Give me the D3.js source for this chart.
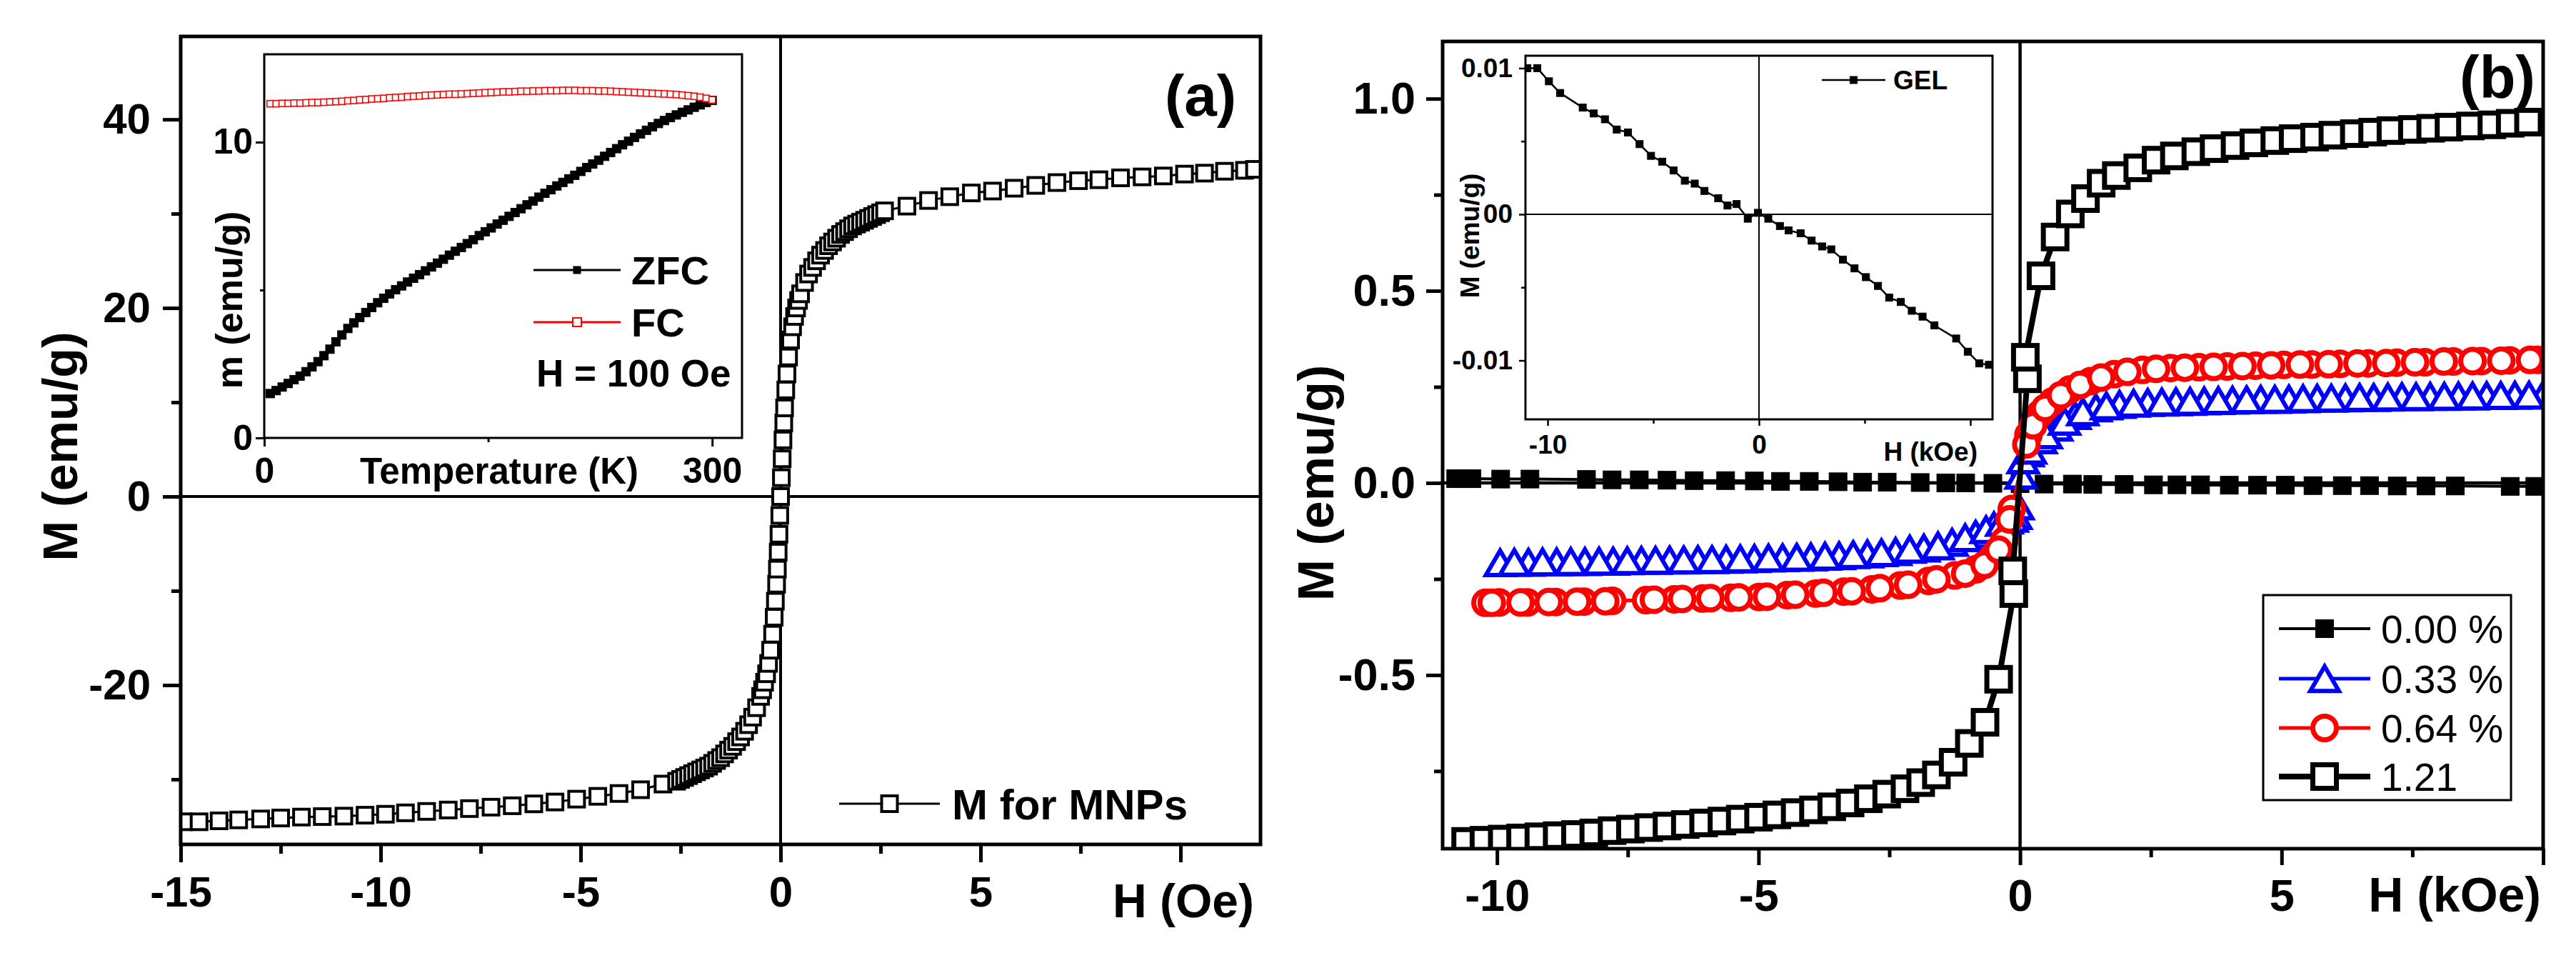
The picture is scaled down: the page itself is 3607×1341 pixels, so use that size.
<!DOCTYPE html>
<html>
<head>
<meta charset="utf-8">
<script src="https://cdn.jsdelivr.net/npm/d3@7"></script>
<style>
  body { margin: 0; background: #fff; }
  svg { display: block; }
</style>
</head>
<body>
<div id="chart"></div>
<script>
// ---------- data ----------

// (a) main: M (emu/g) vs H, pairs [H, M]
const mnpLoop = [
  [-14.93,-34.5],[-14.54,-34.5],[-14.04,-34.4],[-13.55,-34.3],[-13.0,-34.2],[-12.5,-34.1],[-11.98,-34.0],[-11.46,-33.95],
  [-10.92,-33.9],[-10.39,-33.8],[-9.88,-33.7],[-9.38,-33.55],[-8.85,-33.4],[-8.31,-33.25],[-7.78,-33.1],[-7.24,-32.95],
  [-6.71,-32.8],[-6.17,-32.6],[-5.64,-32.4],[-5.1,-32.1],[-4.57,-31.8],[-4.04,-31.5],[-3.5,-31.1],[-2.94,-30.5],
  [-2.6,-30.2],[-2.5,-30.0],[-2.4,-29.8],[-2.3,-29.6],[-2.2,-29.4],[-2.1,-29.2],[-2.0,-29.0],[-1.9,-28.8],[-1.8,-28.6],
  [-1.7,-28.3],[-1.6,-28.0],[-1.5,-27.7],[-1.4,-27.3],[-1.3,-26.9],[-1.2,-26.5],[-1.1,-26.0],[-1.0,-25.5],[-0.9,-24.9],
  [-0.8,-24.2],[-0.7,-23.4],[-0.6,-22.4],[-0.5,-21.2],[-0.45,-20.5],[-0.4,-19.7],[-0.35,-18.8],[-0.3,-17.7],[-0.25,-16.3],
  [-0.2,-14.6],[-0.16,-12.8],[-0.13,-11.1],[-0.1,-9.3],[-0.08,-7.7],[-0.06,-5.9],[-0.04,-4.0],[-0.02,-2.0],[0,0],
  [0.02,2.0],[0.04,4.0],[0.06,6.0],[0.08,7.8],[0.1,9.4],[0.13,11.3],[0.16,13.0],[0.2,14.8],[0.25,16.6],[0.3,18.0],
  [0.35,19.1],[0.4,20.0],[0.45,20.8],[0.5,21.5],[0.6,22.7],[0.7,23.6],[0.8,24.3],[0.9,25.0],[1.0,25.6],[1.1,26.1],
  [1.2,26.6],[1.3,27.0],[1.4,27.4],[1.5,27.8],[1.6,28.1],[1.7,28.4],[1.8,28.7],[1.9,28.9],[2.0,29.1],[2.1,29.3],
  [2.2,29.5],[2.3,29.7],[2.4,29.9],[2.5,30.1],[2.6,30.3],
  [3.16,30.8],[3.7,31.4],[4.23,31.8],[4.77,32.2],[5.3,32.4],[5.84,32.7],[6.38,33.0],[6.91,33.3],[7.45,33.5],
  [7.96,33.6],[8.5,33.8],[9.04,33.9],[9.57,34.0],[10.1,34.2],[10.6,34.3],[11.1,34.5],[11.6,34.6],[11.85,34.7]
];

// (a) inset: temperatures (K) with ZFC and FC moments (emu/g)
const tempK = [
  4,8,12,16,20,24,28,32,36,40,
  44,48,52,56,60,64,68,72,76,80,
  84,88,92,96,100,104,108,112,116,120,
  124,128,132,136,140,144,148,152,156,160,
  164,168,172,176,180,184,188,192,196,200,
  204,208,212,216,220,224,228,232,236,240,
  244,248,252,256,260,264,268,272,276,280,
  284,288,292,296,300
];
const zfc = [
  1.50,1.60,1.72,1.84,1.97,2.09,2.24,2.40,2.58,2.78,
  3.00,3.25,3.48,3.70,3.89,4.07,4.24,4.41,4.57,4.72,
  4.87,5.01,5.14,5.27,5.40,5.52,5.65,5.78,5.91,6.04,
  6.18,6.31,6.44,6.57,6.70,6.84,6.97,7.10,7.23,7.36,
  7.49,7.62,7.75,7.88,8.01,8.14,8.27,8.39,8.52,8.64,
  8.76,8.88,9.01,9.14,9.26,9.39,9.52,9.65,9.78,9.91,
  10.03,10.16,10.28,10.40,10.52,10.63,10.73,10.83,10.92,11.01,
  11.09,11.18,11.26,11.34,11.41
];
const fc = [
  11.30,11.30,11.31,11.31,11.32,11.32,11.33,11.34,11.34,11.35,
  11.36,11.37,11.38,11.40,11.41,11.43,11.44,11.46,11.47,11.48,
  11.50,11.51,11.52,11.54,11.55,11.56,11.58,11.59,11.60,11.61,
  11.62,11.62,11.63,11.64,11.65,11.66,11.67,11.68,11.69,11.70,
  11.70,11.71,11.72,11.72,11.73,11.73,11.74,11.74,11.74,11.75,
  11.75,11.75,11.74,11.74,11.74,11.73,11.73,11.72,11.71,11.70,
  11.69,11.68,11.67,11.66,11.65,11.64,11.63,11.62,11.61,11.59,
  11.57,11.55,11.52,11.48,11.43
];

// (b) inset: GEL, pairs [H kOe, M emu/g]
const gel = [
  [-10.96,0.0100],[-10.49,0.0100],[-9.94,0.0091],[-9.41,0.0083],[-8.34,0.0073],[-7.82,0.0069],[-7.29,0.0065],
  [-6.73,0.0058],[-6.20,0.0056],[-5.65,0.0048],[-5.11,0.0040],[-4.58,0.0036],[-4.04,0.0030],[-3.51,0.0023],
  [-3.04,0.0021],[-2.58,0.0016],[-1.93,0.0011],[-1.49,0.0006],[-1.06,0.0007],[-0.53,-0.0003],[-0.05,0.0001],
  [0.44,-0.0003],[0.99,-0.0008],[1.40,-0.0011],[1.97,-0.0013],[2.49,-0.0018],[2.99,-0.0022],[3.42,-0.0024],
  [3.97,-0.0031],[4.52,-0.0037],[5.06,-0.0043],[5.63,-0.0049],[6.16,-0.0057],[6.71,-0.0060],[7.23,-0.0066],
  [7.74,-0.0070],[8.30,-0.0076],[9.33,-0.0085],[9.88,-0.0094],[10.42,-0.0102],[10.88,-0.0103]
];

// (b) main: pairs [H kOe, M emu/g]
const loop000 = [
  [-10.79,0.011],[-10.48,0.011],[-9.93,0.010],[-9.37,0.010],[-8.29,0.009],[-7.80,0.008],[-7.28,0.008],[-6.75,0.007],
  [-6.23,0.006],[-5.63,0.006],[-5.08,0.005],[-4.58,0.004],[-4.03,0.004],[-3.48,0.003],[-3.01,0.002],[-2.54,0.002],
  [-1.91,0.001],[-1.42,0.000],[-1.04,0.000],[-0.52,-0.001],[0.0,-0.002],[0.46,-0.003],[1.0,-0.003],[1.39,-0.004],
  [1.99,-0.004],[2.55,-0.005],[3.0,-0.005],[3.45,-0.005],[4.0,-0.006],[4.54,-0.006],[5.07,-0.006],[5.6,-0.007],
  [6.16,-0.007],[6.68,-0.007],[7.21,-0.008],[7.76,-0.008],[8.32,-0.008],[9.37,-0.009],[9.84,-0.009]
];
const loop033 = [
  [10.0,0.229],[9.46,0.228],[8.92,0.227],[8.38,0.226],[7.84,0.225],[7.30,0.224],[6.76,0.222],[6.22,0.221],[5.68,0.220],[5.14,0.218],
  [4.60,0.217],[4.06,0.215],[3.52,0.213],[2.98,0.211],[2.44,0.209],[1.90,0.204],[1.45,0.195],[1.05,0.175],[0.70,0.145],[0.40,0.112],
  [0.15,0.078],[0.02,0.020],[-0.08,-0.085],[-0.25,-0.097],[-0.50,-0.112],[-0.85,-0.134],[-1.30,-0.155],[-1.84,-0.170],[-2.38,-0.179],[-2.92,-0.185],
  [-3.46,-0.190],[-4.00,-0.193],[-4.54,-0.195],[-5.08,-0.197],[-5.62,-0.199],[-6.16,-0.200],[-6.70,-0.201],[-7.24,-0.202],[-7.78,-0.204],[-8.32,-0.205],
  [-8.86,-0.206],[-9.40,-0.207],[-9.94,-0.208],
  [-9.67,-0.207],[-9.13,-0.206],[-8.59,-0.205],[-8.05,-0.204],[-7.51,-0.203],[-6.97,-0.202],[-6.43,-0.201],[-5.89,-0.200],[-5.35,-0.198],[-4.81,-0.196],
  [-4.27,-0.194],[-3.73,-0.191],[-3.19,-0.187],[-2.65,-0.182],[-2.11,-0.173],[-1.57,-0.164],[-1.05,-0.143],[-0.65,-0.122],[-0.35,-0.103],[-0.15,-0.092],
  [-0.04,-0.060],[0.06,0.060],[0.20,0.085],[0.50,0.125],[0.85,0.160],[1.20,0.185],[1.65,0.200],[2.17,0.207],[2.71,0.210],[3.25,0.212],
  [3.79,0.214],[4.33,0.216],[4.87,0.217],[5.41,0.219],[5.95,0.220],[6.49,0.222],[7.03,0.223],[7.57,0.224],[8.11,0.225],[8.65,0.226],
  [9.19,0.227],[9.73,0.228]
];
const loop064 = [
  [9.9,0.320],[9.36,0.319],[8.82,0.317],[8.28,0.316],[7.74,0.314],[7.20,0.313],[6.66,0.311],[6.12,0.310],[5.58,0.308],[5.04,0.307],
  [4.50,0.305],[3.96,0.303],[3.42,0.301],[2.88,0.299],[2.34,0.294],[1.80,0.283],[1.35,0.265],[0.95,0.243],[0.62,0.212],[0.38,0.180],
  [0.16,0.125],[-0.16,-0.068],[-0.30,-0.150],[-0.52,-0.192],[-0.85,-0.225],[-1.25,-0.241],[-1.75,-0.255],[-2.29,-0.267],[-2.83,-0.277],[-3.37,-0.283],
  [-3.91,-0.288],[-4.45,-0.292],[-4.99,-0.297],[-5.53,-0.299],[-6.07,-0.301],[-6.61,-0.303],[-7.15,-0.305],[-7.80,-0.307],[-8.34,-0.309],[-8.88,-0.310],
  [-9.42,-0.311],[-9.96,-0.311],[-10.22,-0.312],
  [-10.10,-0.312],[-9.55,-0.311],[-9.01,-0.310],[-8.47,-0.309],[-7.93,-0.308],[-7.00,-0.304],[-6.46,-0.302],[-5.92,-0.300],[-5.38,-0.298],[-4.84,-0.296],
  [-4.30,-0.291],[-3.76,-0.286],[-3.22,-0.282],[-2.68,-0.274],[-2.14,-0.265],[-1.60,-0.251],[-1.05,-0.236],[-0.68,-0.213],[-0.41,-0.174],[-0.20,-0.095],
  [0.12,0.100],[0.25,0.150],[0.48,0.195],[0.78,0.228],[1.15,0.255],[1.55,0.274],[2.05,0.289],[2.60,0.297],[3.15,0.300],[3.70,0.302],
  [4.25,0.304],[4.80,0.306],[5.35,0.308],[5.90,0.309],[6.45,0.311],[7.00,0.312],[7.55,0.314],[8.10,0.316],[8.65,0.317],[9.20,0.318],
  [9.75,0.320]
];
const loop121 = [
  [-10.6,-0.933],[-10.25,-0.930],[-9.9,-0.927],[-9.55,-0.924],[-9.2,-0.921],[-8.85,-0.918],[-8.5,-0.915],[-8.15,-0.911],[-7.8,-0.905],[-7.45,-0.901],
  [-7.1,-0.897],[-6.75,-0.893],[-6.4,-0.889],[-6.05,-0.885],[-5.7,-0.880],[-5.35,-0.875],[-5.0,-0.870],[-4.65,-0.864],[-4.3,-0.858],[-3.95,-0.851],
  [-3.6,-0.843],[-3.25,-0.833],[-2.9,-0.822],[-2.55,-0.810],[-2.2,-0.796],[-1.9,-0.780],[-1.6,-0.760],[-1.28,-0.727],[-0.97,-0.678],[-0.67,-0.623],
  [-0.41,-0.511],[-0.12,-0.288],[-0.14,-0.229],[0.14,0.271],[0.10,0.327],[0.40,0.539],[0.67,0.640],[0.96,0.700],[1.25,0.740],[1.55,0.780],
  [1.84,0.800],[2.25,0.820],[2.60,0.840],[2.95,0.851],[3.36,0.862],[3.71,0.870],[4.11,0.878],[4.47,0.885],[4.87,0.891],[5.22,0.896],
  [5.63,0.900],[5.98,0.905],[6.39,0.909],[6.74,0.913],[7.09,0.917],[7.50,0.920],[7.85,0.923],[8.20,0.926],[8.61,0.929],[9.02,0.932],
  [9.37,0.936],[9.72,0.939]
];
const bLegend = ["0.00 %", "0.33 %", "0.64 %", "1.21"];

// ticks
const aXMajor = [-15, -10, -5, 0, 5, 10];
const aXLabels = ["-15", "-10", "-5", "0", "5", ""];
const aXMinor = [-12.5, -7.5, -2.5, 2.5, 7.5];
const aYMajor = [-20, 0, 20, 40];
const aYLabels = ["-20", "0", "20", "40"];
const aYMinor = [-30, -10, 10, 30];
const aiXMajor = [0, 300], aiXLabels = ["0", "300"], aiXMinor = [150];
const aiYMajor = [0, 10], aiYLabels = ["0", "10"], aiYMinor = [5];
const bXMajor = [-10, -5, 0, 5, 10];
const bXLabels = ["-10", "-5", "0", "5", ""];
const bXMinor = [-7.5, -2.5, 2.5, 7.5];
const bYMajor = [-0.5, 0, 0.5, 1.0];
const bYLabels = ["-0.5", "0.0", "0.5", "1.0"];
const bYMinor = [-0.75, -0.25, 0.25, 0.75];
const biXMajor = [-10, 0, 10], biXLabels = ["-10", "0", ""], biXMinor = [-5, 5];
const biYMajor = [-0.01, 0, 0.01], biYLabels = ["-0.01", "00", "0.01"], biYMinor = [-0.005, 0.005];

// ---------- drawing ----------
const FONT = '"Liberation Sans", Arial, Helvetica, sans-serif';
const svg = d3.select("#chart").append("svg").attr("width", 3607).attr("height", 1341);
svg.append("rect").attr("width", 3607).attr("height", 1341).attr("fill", "#fff");

let clipCount = 0;
function clipFor(box) {
  const id = "clip" + clipCount++;
  svg.append("clipPath").attr("id", id).append("rect")
    .attr("x", box.l).attr("y", box.t)
    .attr("width", box.r - box.l).attr("height", box.b - box.t);
  return `url(#${id})`;
}

function label(x, y, str, size, o = {}) {
  const t = svg.append("text")
    .attr("x", x).attr("y", y)
    .attr("font-family", FONT)
    .attr("font-size", size)
    .attr("font-weight", o.weight || "bold")
    .attr("text-anchor", o.anchor || "start")
    .attr("fill", "#000")
    .text(str);
  if (o.dy) t.attr("dy", o.dy);
  if (o.rotate) t.attr("transform", `rotate(-90,${x},${y})`);
  return t;
}

function axes(x, y, box, c) {
  const bx = svg.append("g").attr("transform", `translate(0,${box.b})`)
    .call(d3.axisBottom(x).tickValues(c.xMajor).tickSize(c.tick).tickPadding(c.xPad)
      .tickFormat((d, i) => c.xLabels[i]));
  const by = svg.append("g").attr("transform", `translate(${box.l},0)`)
    .call(d3.axisLeft(y).tickValues(c.yMajor).tickSize(c.tick).tickPadding(c.yPad)
      .tickFormat((d, i) => c.yLabels[i]));
  const mx = svg.append("g").attr("transform", `translate(0,${box.b})`)
    .call(d3.axisBottom(x).tickValues(c.xMinor).tickSize(c.minor).tickFormat(""));
  const my = svg.append("g").attr("transform", `translate(${box.l},0)`)
    .call(d3.axisLeft(y).tickValues(c.yMinor).tickSize(c.minor).tickFormat(""));
  [bx, by, mx, my].forEach((g) => {
    g.select(".domain").remove();
    g.selectAll("line").attr("stroke", "#000").attr("stroke-width", c.sw);
    g.selectAll("text")
      .attr("font-family", FONT)
      .attr("font-size", c.fs)
      .attr("font-weight", "bold")
      .attr("fill", "#000");
  });
}

function frame(box, sw) {
  svg.append("rect")
    .attr("x", box.l).attr("y", box.t)
    .attr("width", box.r - box.l).attr("height", box.b - box.t)
    .attr("fill", "none").attr("stroke", "#000").attr("stroke-width", sw);
}

function shape(g, st) {
  const s = st.size;
  let m;
  if (st.shape === "circle") {
    m = g.append("circle").attr("r", s / 2);
  } else if (st.shape === "triangle") {
    const h = s * 0.86;
    m = g.append("path").attr("d", `M0,${-h / 2}L${s / 2},${h / 2}L${-s / 2},${h / 2}Z`);
  } else {
    m = g.append("rect").attr("x", -s / 2).attr("y", -s / 2).attr("width", s).attr("height", s);
  }
  m.attr("fill", st.fill).attr("stroke", st.color).attr("stroke-width", st.sw)
    .attr("stroke-linejoin", "miter");
  return m;
}

function series(data, x, y, st, clip) {
  const g = svg.append("g").attr("clip-path", clip);
  g.append("path")
    .datum(data)
    .attr("fill", "none")
    .attr("stroke", st.color)
    .attr("stroke-width", st.lw)
    .attr("stroke-linejoin", "round")
    .attr("stroke-linecap", "round")
    .attr("d", d3.line().x((d) => x(d[0])).y((d) => y(d[1])));
  g.selectAll(".pt")
    .data(data)
    .enter()
    .append("g")
    .attr("class", "pt")
    .attr("transform", (d) => `translate(${x(d[0])},${y(d[1])})`)
    .each(function () { shape(d3.select(this), st); });
}

function legendEntry(x1, x2, y, st, text, tx, fs, weight) {
  svg.append("line").attr("x1", x1).attr("x2", x2).attr("y1", y).attr("y2", y)
    .attr("stroke", st.color).attr("stroke-width", st.legLw || st.lw);
  shape(svg.append("g").attr("transform", `translate(${(x1 + x2) / 2},${y})`), st);
  label(tx, y, text, fs, { dy: "0.36em", weight: weight });
}

// ===== panel (a) =====
const boxA = { l: 253, r: 1765, t: 51, b: 1182 };
const xA = d3.scaleLinear().domain([-15, 12]).range([boxA.l, boxA.r]);
const yA = d3.scaleLinear().domain([-36.9, 48.8]).range([boxA.b, boxA.t]);
const clipA = clipFor(boxA);

svg.append("line").attr("x1", boxA.l).attr("x2", boxA.r).attr("y1", yA(0)).attr("y2", yA(0))
  .attr("stroke", "#000").attr("stroke-width", 4);
svg.append("line").attr("x1", xA(0)).attr("x2", xA(0)).attr("y1", boxA.t).attr("y2", boxA.b)
  .attr("stroke", "#000").attr("stroke-width", 4);

const stMnp = { shape: "square", size: 22, sw: 4, color: "#000", fill: "#fff", lw: 3 };
series(mnpLoop, xA, yA, stMnp, clipA);

axes(xA, yA, boxA, {
  xMajor: aXMajor, xLabels: aXLabels, xMinor: aXMinor,
  yMajor: aYMajor, yLabels: aYLabels, yMinor: aYMinor,
  tick: 25, minor: 13, xPad: 19, yPad: 17, sw: 5, fs: 60
});
frame(boxA, 5);

label(84, 625, "M (emu/g)", 68, { anchor: "middle", dy: "0.36em", rotate: true });
label(1756, 1284, "H (Oe)", 66, { anchor: "end" });
label(1681, 132, "(a)", 82, { anchor: "middle", dy: "0.36em" });
legendEntry(1175, 1316, 1125, stMnp, "M for MNPs", 1333, 60, "bold");

// inset (a)
const boxAi = { l: 370, r: 1039, t: 76, b: 613 };
const xAi = d3.scaleLinear().domain([0, 320]).range([boxAi.l, boxAi.r]);
const yAi = d3.scaleLinear().domain([0, 12.97]).range([boxAi.b, boxAi.t]);
const clipAi = clipFor(boxAi);
svg.append("rect").attr("x", boxAi.l).attr("y", boxAi.t)
  .attr("width", boxAi.r - boxAi.l).attr("height", boxAi.b - boxAi.t).attr("fill", "#fff");

const stZfc = { shape: "square", size: 12, sw: 1, color: "#000", fill: "#000", lw: 6, legLw: 3 };
const stFc = { shape: "square", size: 9, sw: 1.6, color: "#ff0000", fill: "#fff", lw: 2.5 };
series(tempK.map((t, i) => [t, zfc[i]]), xAi, yAi, stZfc, clipAi);
series(tempK.map((t, i) => [t, fc[i]]), xAi, yAi, stFc, clipAi);

axes(xAi, yAi, boxAi, {
  xMajor: aiXMajor, xLabels: aiXLabels, xMinor: aiXMinor,
  yMajor: aiYMajor, yLabels: aiYLabels, yMinor: aiYMinor,
  tick: 12, minor: 6, xPad: 15, yPad: 4, sw: 3, fs: 50
});
frame(boxAi, 3);
label(699, 677, "Temperature (K)", 51, { anchor: "middle" });
label(320, 420, "m (emu/g)", 52, { anchor: "middle", dy: "0.36em", rotate: true });
legendEntry(747, 869, 378, { shape: "square", size: 10, sw: 1, color: "#000", fill: "#000", lw: 3 }, "ZFC", 884, 56, "bold");
legendEntry(747, 869, 451, { shape: "square", size: 12, sw: 2, color: "#ff0000", fill: "#fff", lw: 3 }, "FC", 884, 56, "bold");
label(751, 541, "H = 100 Oe", 53);

// ===== panel (b) =====
const boxB = { l: 2020, r: 3561, t: 58, b: 1188 };
const xB = d3.scaleLinear().domain([-11.04, 10.0]).range([boxB.l, boxB.r]);
const yB = d3.scaleLinear().domain([-0.952, 1.149]).range([boxB.b, boxB.t]);
const clipB = clipFor(boxB);

svg.append("line").attr("x1", boxB.l).attr("x2", boxB.r).attr("y1", yB(0)).attr("y2", yB(0))
  .attr("stroke", "#000").attr("stroke-width", 4.5);
svg.append("line").attr("x1", xB(0)).attr("x2", xB(0)).attr("y1", boxB.t).attr("y2", boxB.b)
  .attr("stroke", "#000").attr("stroke-width", 4.5);

// inset (b) sits inside panel (b)
const boxBi = { l: 2136, r: 2790, t: 78, b: 587 };
const xBi = d3.scaleLinear().domain([-11.05, 11.05]).range([boxBi.l, boxBi.r]);
const yBi = d3.scaleLinear().domain([-0.01403, 0.01085]).range([boxBi.b, boxBi.t]);
const clipBi = clipFor(boxBi);
svg.append("rect").attr("x", boxBi.l).attr("y", boxBi.t)
  .attr("width", boxBi.r - boxBi.l).attr("height", boxBi.b - boxBi.t).attr("fill", "#fff");
svg.append("line").attr("x1", boxBi.l).attr("x2", boxBi.r).attr("y1", yBi(0)).attr("y2", yBi(0))
  .attr("stroke", "#000").attr("stroke-width", 2);
svg.append("line").attr("x1", xBi(0)).attr("x2", xBi(0)).attr("y1", boxBi.t).attr("y2", boxBi.b)
  .attr("stroke", "#000").attr("stroke-width", 2);
const stGel = { shape: "square", size: 10, sw: 1, color: "#000", fill: "#000", lw: 2.5 };
series(gel, xBi, yBi, stGel, clipBi);
axes(xBi, yBi, boxBi, {
  xMajor: biXMajor, xLabels: biXLabels, xMinor: biXMinor,
  yMajor: biYMajor, yLabels: biYLabels, yMinor: biYMinor,
  tick: 9, minor: 6, xPad: 13, yPad: 9, sw: 2.5, fs: 37
});
frame(boxBi, 3);
label(2058, 330, "M (emu/g)", 37, { anchor: "middle", dy: "0.36em", rotate: true });
label(2769, 645, "H (kOe)", 37, { anchor: "end" });
legendEntry(2551, 2640, 112, stGel, "GEL", 2651, 37, "bold");

// main series (b)
const stB = [
  { shape: "square", size: 25, sw: 1, color: "#000", fill: "#000", lw: 4 },
  { shape: "triangle", size: 40, sw: 6, color: "#0000ff", fill: "#fff", lw: 5 },
  { shape: "circle", size: 33, sw: 7, color: "#ff0000", fill: "#fff", lw: 5 },
  { shape: "square", size: 33, sw: 7, color: "#000", fill: "#fff", lw: 8 }
];
[loop000, loop033, loop064, loop121].forEach((d, i) => series(d, xB, yB, stB[i], clipB));

axes(xB, yB, boxB, {
  xMajor: bXMajor, xLabels: bXLabels, xMinor: bXMinor,
  yMajor: bYMajor, yLabels: bYLabels, yMinor: bYMinor,
  tick: 23, minor: 12, xPad: 19, yPad: 15, sw: 5, fs: 63
});
frame(boxB, 5);

label(1842, 676, "M (emu/g)", 70, { anchor: "middle", dy: "0.36em", rotate: true });
label(3558, 1276, "H (kOe)", 68, { anchor: "end" });
label(3497, 107, "(b)", 83, { anchor: "middle", dy: "0.36em" });

// legend (b)
svg.append("rect").attr("x", 3169).attr("y", 833).attr("width", 347).attr("height", 287)
  .attr("fill", "#fff").attr("stroke", "#000").attr("stroke-width", 3);
const legY = [880, 950, 1019, 1087];
bLegend.forEach((name, i) => {
  legendEntry(3191, 3319, legY[i], stB[i], name, 3334, 55, "normal");
});
</script>
</body>
</html>
